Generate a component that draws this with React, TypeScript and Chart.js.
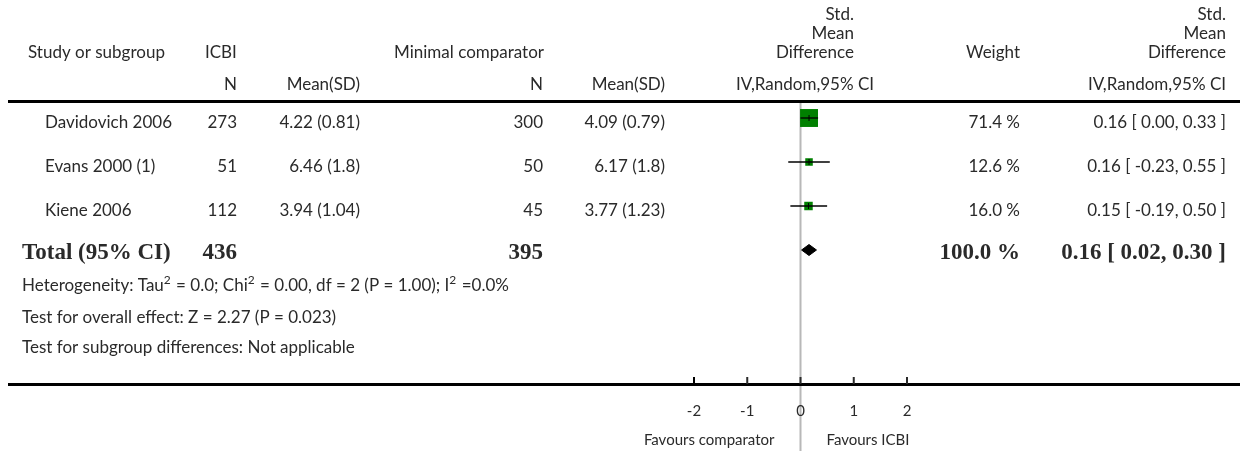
import React, { useEffect, useRef } from "react";
import { Chart, registerables } from "chart.js";

Chart.register(...registerables);

// ---------- data ----------
const studies = ["Davidovich 2006", "Evans 2000 (1)", "Kiene 2006"];
const icbiN = [273, 51, 112];
const icbiMeanSD = ["4.22 (0.81)", "6.46 (1.8)", "3.94 (1.04)"];
const compN = [300, 50, 45];
const compMeanSD = ["4.09 (0.79)", "6.17 (1.8)", "3.77 (1.23)"];
const smd = [0.16, 0.16, 0.15];
const ciLow = [0.0, -0.23, -0.19];
const ciHigh = [0.33, 0.55, 0.5];
const weights = [71.4, 12.6, 16.0];

const totalLabel = "Total (95% CI)";
const totalIcbiN = 436;
const totalCompN = 395;
const totalSmd = 0.16;
const totalLow = 0.02;
const totalHigh = 0.3;
const totalWeight = 100.0;

const axisTicks = [-2, -1, 0, 1, 2];
const favoursLeft = "Favours comparator";
const favoursRight = "Favours ICBI";

const heterogeneityParts: [string, boolean][] = [
  ["Heterogeneity: Tau", false],
  ["2", true],
  [" = 0.0; Chi", false],
  ["2", true],
  [" = 0.00, df = 2 (P = 1.00); I", false],
  ["2", true],
  [" =0.0%", false],
];
const overallEffect = "Test for overall effect: Z = 2.27 (P = 0.023)";
const subgroupDiff = "Test for subgroup differences: Not applicable";

// ---------- styles ----------
const SANS = '"Lato", "Open Sans", sans-serif';
const SERIF = '"Liberation Serif", "DejaVu Serif", serif';
const TEXT = "#2a2a2a";
const FS = 17;
const BFS = 23;

const fmt2 = (v: number) => v.toFixed(2);
const ciText = (e: number, l: number, h: number) => `${fmt2(e)} [ ${fmt2(l)}, ${fmt2(h)} ]`;

function txt(ctx: CanvasRenderingContext2D, s: string, x: number, y: number, align: CanvasTextAlign, font: string) {
  ctx.font = font;
  ctx.textAlign = align;
  ctx.textBaseline = "middle";
  ctx.fillStyle = TEXT;
  ctx.fillText(s, x, y);
}

function rich(ctx: CanvasRenderingContext2D, parts: [string, boolean][], x: number, y: number) {
  let cx = x;
  ctx.textAlign = "left";
  ctx.textBaseline = "middle";
  ctx.fillStyle = TEXT;
  for (const [s, sup] of parts) {
    ctx.font = sup ? `${Math.round(FS * 0.7)}px ${SANS}` : `${FS}px ${SANS}`;
    ctx.fillText(s, cx, sup ? y - 6 : y);
    cx += ctx.measureText(s).width + (sup ? 1 : 0);
  }
}

const forestPlugin = {
  id: "forestText",
  beforeDatasetsDraw(chart: any) {
    const ctx: CanvasRenderingContext2D = chart.ctx;
    const xs = chart.scales.x;
    const x0 = xs.getPixelForValue(0);
    ctx.save();
    ctx.strokeStyle = "#b8b8b8";
    ctx.lineWidth = 2;
    ctx.beginPath();
    ctx.moveTo(x0, 103);
    ctx.lineTo(x0, 451);
    ctx.stroke();
    ctx.restore();
  },
  afterDraw(chart: any) {
    const ctx: CanvasRenderingContext2D = chart.ctx;
    const xs = chart.scales.x;
    const ys = chart.scales.y;
    const f = `${FS}px ${SANS}`;
    const bf = `bold ${BFS}px ${SERIF}`;
    const sf = `15px ${SANS}`;
    ctx.save();

    // header
    txt(ctx, "Std.", 854, 15, "right", f);
    txt(ctx, "Mean", 854, 34, "right", f);
    txt(ctx, "Difference", 854, 53, "right", f);
    txt(ctx, "Std.", 1226, 15, "right", f);
    txt(ctx, "Mean", 1226, 34, "right", f);
    txt(ctx, "Difference", 1226, 53, "right", f);
    txt(ctx, "Study or subgroup", 28, 53, "left", f);
    txt(ctx, "ICBI", 205, 53, "left", f);
    txt(ctx, "Minimal comparator", 544, 53, "right", f);
    txt(ctx, "Weight", 1020, 53, "right", f);
    txt(ctx, "N", 237, 85, "right", f);
    txt(ctx, "Mean(SD)", 360, 85, "right", f);
    txt(ctx, "N", 543, 85, "right", f);
    txt(ctx, "Mean(SD)", 665, 85, "right", f);
    txt(ctx, "IV,Random,95% CI", 805, 85, "center", f);
    txt(ctx, "IV,Random,95% CI", 1226, 85, "right", f);

    // rules
    ctx.fillStyle = "#000";
    ctx.fillRect(8, 100, 1232, 3);
    ctx.fillRect(8, 383, 1232, 3);

    // study rows
    studies.forEach((s, i) => {
      const y = ys.getPixelForValue(i) + 5;
      txt(ctx, s, 45, y, "left", f);
      txt(ctx, String(icbiN[i]), 237, y, "right", f);
      txt(ctx, icbiMeanSD[i], 360, y, "right", f);
      txt(ctx, String(compN[i]), 543, y, "right", f);
      txt(ctx, compMeanSD[i], 665, y, "right", f);
      txt(ctx, `${weights[i].toFixed(1)} %`, 1020, y, "right", f);
      txt(ctx, ciText(smd[i], ciLow[i], ciHigh[i]), 1226, y, "right", f);
    });

    // total row
    const ty = ys.getPixelForValue(studies.length) + 3;
    txt(ctx, totalLabel, 22, ty, "left", bf);
    txt(ctx, String(totalIcbiN), 237, ty, "right", bf);
    txt(ctx, String(totalCompN), 543, ty, "right", bf);
    txt(ctx, `${totalWeight.toFixed(1)} %`, 1020, ty, "right", bf);
    txt(ctx, ciText(totalSmd, totalLow, totalHigh), 1226, ty, "right", bf);

    // footnotes
    rich(ctx, heterogeneityParts, 22, 286);
    txt(ctx, overallEffect, 22, 318, "left", f);
    txt(ctx, subgroupDiff, 22, 348, "left", f);

    // axis ticks
    ctx.fillStyle = "#000";
    axisTicks.forEach((t) => {
      const px = xs.getPixelForValue(t);
      ctx.fillRect(px - 1, 377, 2, 7);
      txt(ctx, t < 0 ? `-${Math.abs(t)}` : String(t), px, 411, "center", sf);
    });
    const x0 = xs.getPixelForValue(0);
    txt(ctx, favoursLeft, x0 - 26, 440, "right", sf);
    txt(ctx, favoursRight, x0 + 26, 440, "left", sf);

    ctx.restore();
  },
};

export default function App() {
  const ref = useRef<HTMLCanvasElement | null>(null);

  useEffect(() => {
    if (!ref.current) return;
    const DIAMOND_HALF = 0.125;
    const ciSets = studies.map((s, i) => ({
      label: `ci-${s}`,
      data: [
        { x: ciLow[i], y: i },
        { x: ciHigh[i], y: i },
      ],
      showLine: true,
      borderColor: "#000",
      borderWidth: 1.3,
      pointRadius: 0,
      order: 1,
      clip: false as any,
    }));
    const chart = new Chart(ref.current, {
      type: "scatter",
      data: {
        datasets: [
          {
            label: "estimate tick",
            data: smd.map((v, i) => ({ x: v, y: i })),
            pointStyle: "line",
            rotation: 90,
            pointRadius: 3,
            borderColor: "#000",
            borderWidth: 1,
            order: 0,
            clip: false as any,
          },
          ...ciSets,
          {
            label: "weights",
            data: smd.map((v, i) => ({ x: v, y: i })),
            pointStyle: "rect",
            pointRadius: weights.map((w) => Math.sqrt(w) * 1.5),
            backgroundColor: "#008000",
            borderWidth: 0,
            order: 2,
            clip: false as any,
          },
          {
            label: "total",
            data: [
              { x: totalLow, y: studies.length },
              { x: totalSmd, y: studies.length - DIAMOND_HALF },
              { x: totalHigh, y: studies.length },
              { x: totalSmd, y: studies.length + DIAMOND_HALF },
              { x: totalLow, y: studies.length },
            ],
            showLine: true,
            fill: "shape" as any,
            backgroundColor: "#000",
            borderColor: "#000",
            borderWidth: 1,
            pointRadius: 0,
            tension: 0,
            order: 0,
            clip: false as any,
          },
        ],
      },
      options: {
        responsive: false,
        animation: false,
        events: [],
        layout: { padding: { left: 694, right: 1242 - 907, top: 96, bottom: 451 - 272 } },
        plugins: { legend: { display: false }, tooltip: { enabled: false } },
        scales: {
          x: { type: "linear", min: -2, max: 2, display: false },
          y: { type: "linear", min: -0.5, max: 3.5, reverse: true, display: false },
        },
      },
      plugins: [forestPlugin],
    });
    return () => chart.destroy();
  }, []);

  return (
    <div style={{ position: "absolute", left: 0, top: 0, width: 1242, height: 451, background: "#fff" }}>
      <canvas ref={ref} width={1242} height={451} style={{ display: "block", width: 1242, height: 451 }} />
    </div>
  );
}
